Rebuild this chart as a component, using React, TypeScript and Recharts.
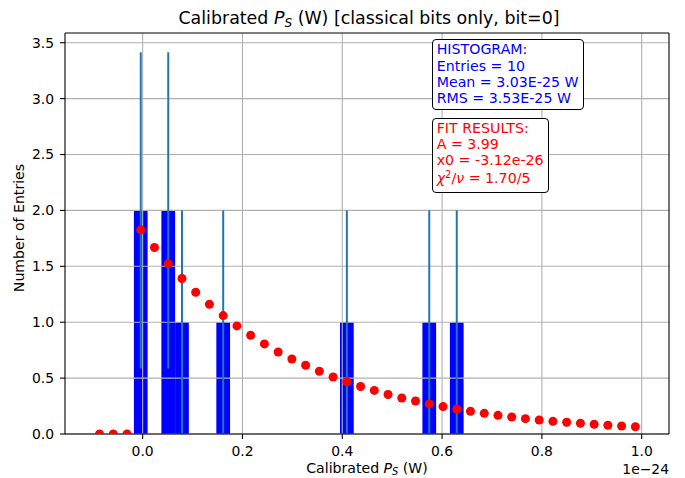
import React from "react";
import {
  ComposedChart,
  XAxis,
  YAxis,
  Scatter,
  ErrorBar,
  ReferenceArea,
  ReferenceLine,
} from "recharts";

// ---- data ----
const binCenters = [-0.0038, 0.0513, 0.0788, 0.1614, 0.4092, 0.5743, 0.6294];
const binCounts = [2, 2, 1, 1, 1, 1, 1];
const binErrors = [1.414, 1.414, 1, 1, 1, 1, 1];
const BIN_WIDTH = 0.0275;

const fitX = [
  -0.0864, -0.0589, -0.0313, -0.0038, 0.0237, 0.0513, 0.0788, 0.1063, 0.1338,
  0.1614, 0.1889, 0.2164, 0.244, 0.2715, 0.299, 0.3266, 0.3541, 0.3816, 0.4092,
  0.4367, 0.4642, 0.4917, 0.5193, 0.5468, 0.5743, 0.6019, 0.6294, 0.6569,
  0.6845, 0.712, 0.7395, 0.767, 0.7946, 0.8221, 0.8496, 0.8772, 0.9047, 0.9322,
  0.9598, 0.9873,
];
const fitY = [
  0, 0, 0, 1.826, 1.668, 1.522, 1.391, 1.268, 1.161, 1.059, 0.967, 0.883, 0.806,
  0.734, 0.671, 0.615, 0.561, 0.51, 0.467, 0.425, 0.39, 0.353, 0.322, 0.295,
  0.269, 0.245, 0.224, 0.203, 0.185, 0.167, 0.152, 0.137, 0.125, 0.113, 0.105,
  0.096, 0.087, 0.078, 0.072, 0.065,
];

const xTicks = [0, 0.2, 0.4, 0.6, 0.8, 1.0];
const yTicks = [0, 0.5, 1.0, 1.5, 2.0, 2.5, 3.0, 3.5];

const histLines = [
  "HISTOGRAM:",
  "Entries = 10",
  "Mean = 3.03E-25 W",
  "RMS = 3.53E-25 W",
];
const fitLines = ["FIT RESULTS:", "A = 3.99", "x0 = -3.12e-26"];
const chiValue = "1.70/5";

// ---- layout ----
const X_MIN = -0.1556;
const X_MAX = 1.0547;
const Y_MIN = 0;
const Y_MAX = 3.587;
const FONT = "'DejaVu Sans', sans-serif";
const TICK_FS = 13.9;
const LABEL_FS = 14.1;
const BOX_FS = 14.2;

const fitData = fitX.map((x, i) => ({ x, y: fitY[i] }));
const errData = binCenters.map((x, i) => ({ x, y: binCounts[i], err: binErrors[i] }));

const Dot = (props: any) => {
  const { cx, cy } = props;
  if (cx == null || cy == null) return <g />;
  return <circle cx={cx} cy={cy} r={4.5} fill="#ff0000" />;
};

const Empty = () => <g />;

const boxStyle: React.CSSProperties = {
  position: "absolute",
  background: "#fff",
  border: "1.1px solid #000",
  borderRadius: 4,
  fontFamily: FONT,
  fontSize: BOX_FS,
  lineHeight: "16.3px",
  whiteSpace: "nowrap",
  boxSizing: "border-box",
};

export default function App() {
  return (
    <div
      style={{
        position: "absolute",
        left: 0,
        top: 0,
        width: 685,
        height: 478,
        background: "#fff",
        fontFamily: FONT,
      }}
    >
      <ComposedChart
        width={685}
        height={478}
        margin={{ top: 33, right: 16, left: 0, bottom: 0 }}
      >
        <XAxis
          dataKey="x"
          type="number"
          domain={[X_MIN, X_MAX]}
          allowDataOverflow
          ticks={xTicks}
          tickFormatter={(v: number) => v.toFixed(1)}
          height={44}
          tickSize={5}
          tickMargin={7}
          tick={{ fill: "#000", fontSize: TICK_FS, fontFamily: FONT }}
          tickLine={{ stroke: "#000", strokeWidth: 1.1 }}
          axisLine={{ stroke: "#000", strokeWidth: 1.1 }}
        />
        <YAxis
          type="number"
          domain={[Y_MIN, Y_MAX]}
          allowDataOverflow
          ticks={yTicks}
          tickFormatter={(v: number) => v.toFixed(1)}
          width={65}
          tickSize={5}
          tickMargin={6}
          tick={{ fill: "#000", fontSize: TICK_FS, fontFamily: FONT }}
          tickLine={{ stroke: "#000", strokeWidth: 1.1 }}
          axisLine={{ stroke: "#000", strokeWidth: 1.1 }}
        />
        {binCenters.map((c, i) => (
          <ReferenceArea
            key={"bar" + i}
            x1={c - BIN_WIDTH / 2}
            x2={c + BIN_WIDTH / 2}
            y1={0}
            y2={binCounts[i]}
            fill="#0000ff"
            fillOpacity={1}
            stroke="none"
            ifOverflow="visible"
          />
        ))}
        {xTicks.map((t) => (
          <ReferenceLine key={"gx" + t} x={t} stroke="#b0b0b0" strokeWidth={1.1} />
        ))}
        {yTicks.map((t) => (
          <ReferenceLine key={"gy" + t} y={t} stroke="#b0b0b0" strokeWidth={1.1} />
        ))}
        <Scatter
          data={fitData}
          dataKey="y"
          shape={<Dot />}
          isAnimationActive={false}
        />
        <Scatter
          data={errData}
          dataKey="y"
          shape={<Empty />}
          isAnimationActive={false}
        >
          <ErrorBar
            dataKey="err"
            direction="y"
            width={0}
            stroke="#1f77b4"
            strokeWidth={2}
            isAnimationActive={false}
          />
        </Scatter>
        <ReferenceLine y={Y_MAX} stroke="#000" strokeWidth={1.1} />
        <ReferenceLine x={X_MAX} stroke="#000" strokeWidth={1.1} />
      </ComposedChart>

      {/* title */}
      <div
        style={{
          position: "absolute",
          left: 369,
          top: 8.4,
          transform: "translateX(-50%)",
          fontSize: 17.4,
          lineHeight: "20px",
          whiteSpace: "nowrap",
          color: "#000",
        }}
      >
        Calibrated <i>P</i>
        <sub style={{ fontSize: "0.7em", lineHeight: 0, verticalAlign: "-0.25em" }}>
          <i>S</i>
        </sub>{" "}
        (W) [classical bits only, bit=0]
      </div>

      {/* x label */}
      <div
        style={{
          position: "absolute",
          left: 367,
          top: 459.7,
          transform: "translateX(-50%)",
          fontSize: LABEL_FS,
          lineHeight: "16px",
          whiteSpace: "nowrap",
          color: "#000",
        }}
      >
        Calibrated <i>P</i>
        <sub style={{ fontSize: "0.7em", lineHeight: 0, verticalAlign: "-0.25em" }}>
          <i>S</i>
        </sub>{" "}
        (W)
      </div>

      {/* y label */}
      <div
        style={{
          position: "absolute",
          left: 18.5,
          top: 228,
          transform: "translate(-50%, -50%) rotate(-90deg)",
          fontSize: LABEL_FS,
          lineHeight: "16px",
          whiteSpace: "nowrap",
          color: "#000",
        }}
      >
        Number of Entries
      </div>

      {/* offset text */}
      <div
        style={{
          position: "absolute",
          right: 685 - 669,
          top: 461.2,
          fontSize: TICK_FS,
          lineHeight: "16px",
          whiteSpace: "nowrap",
          color: "#000",
        }}
      >
        1e−24
      </div>

      {/* histogram box */}
      <div
        style={{
          ...boxStyle,
          left: 431.7,
          top: 39,
          padding: "1.3px 4.5px 2.5px 4px",
          color: "#0000ff",
        }}
      >
        {histLines.map((l) => (
          <div key={l}>{l}</div>
        ))}
      </div>

      {/* fit box */}
      <div
        style={{
          ...boxStyle,
          left: 431.7,
          top: 117.7,
          padding: "1px 4.5px 6px 4px",
          color: "#ff0000",
        }}
      >
        {fitLines.map((l) => (
          <div key={l}>{l}</div>
        ))}
        <div style={{ marginTop: 1 }}>
          <i>χ</i>
          <sup style={{ fontSize: "0.7em", lineHeight: 0, verticalAlign: "0.5em" }}>2</sup>
          /<i>ν</i> = {chiValue}
        </div>
      </div>
    </div>
  );
}
